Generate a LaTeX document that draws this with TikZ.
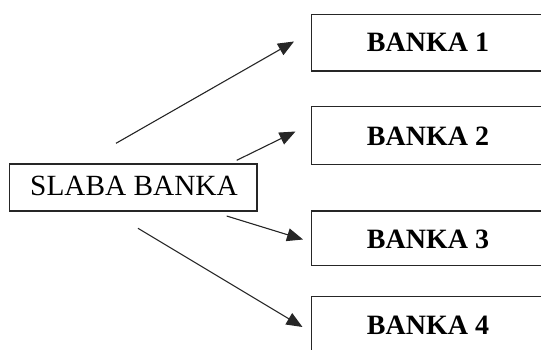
\documentclass[tikz,border=0pt]{standalone}
\usepackage{fontspec}
\setmainfont{Liberation Serif}
\usetikzlibrary{arrows.meta}
\begin{document}
\begin{tikzpicture}[x=1pt,y=-1pt,
  boxstyle/.style={draw=black!85,line width=1.4pt,inner sep=0pt},
  lbl/.style={anchor=base,inner sep=0pt,font=\fontsize{29.3}{31}\selectfont},
  blbl/.style={anchor=base,inner sep=0pt,font=\fontsize{28}{30}\selectfont\bfseries},
  arr/.style={draw=black!85,line width=1.1pt,-{Triangle[length=16pt,width=13pt]}}]
\useasboundingbox (0,0) rectangle (541,349);
\clip (0,0) rectangle (541,349);
% source box
\draw[boxstyle] (9.7,164) rectangle (257,211);
\node[lbl] (src) at (134,195) {SLABA BANKA};
% target boxes
\draw[boxstyle] (311.7,14.3) rectangle (570,71);
\node[blbl] (b1) at (428,51.7) {BANKA 1};
\draw[boxstyle] (311.7,106.7) rectangle (570,164.3);
\node[blbl] (b2) at (428,145) {BANKA 2};
\draw[boxstyle] (311.7,211) rectangle (570,265.7);
\node[blbl] (b3) at (428,248.3) {BANKA 3};
\draw[boxstyle] (311.7,296.7) rectangle (570,355);
\node[blbl] (b4) at (428,334) {BANKA 4};
% connector ends
\coordinate (s1) at (116,143.3);
\coordinate (e1) at (294,41.5);
\coordinate (s2) at (236.7,160.3);
\coordinate (e2) at (295.5,131.5);
\coordinate (s3) at (226.7,216);
\coordinate (e3) at (303,239.5);
\coordinate (s4) at (138,228.3);
\coordinate (e4) at (302.5,327);
\draw[arr] (s1) -- (e1);
\draw[arr] (s2) -- (e2);
\draw[arr] (s3) -- (e3);
\draw[arr] (s4) -- (e4);
\end{tikzpicture}
\end{document}
